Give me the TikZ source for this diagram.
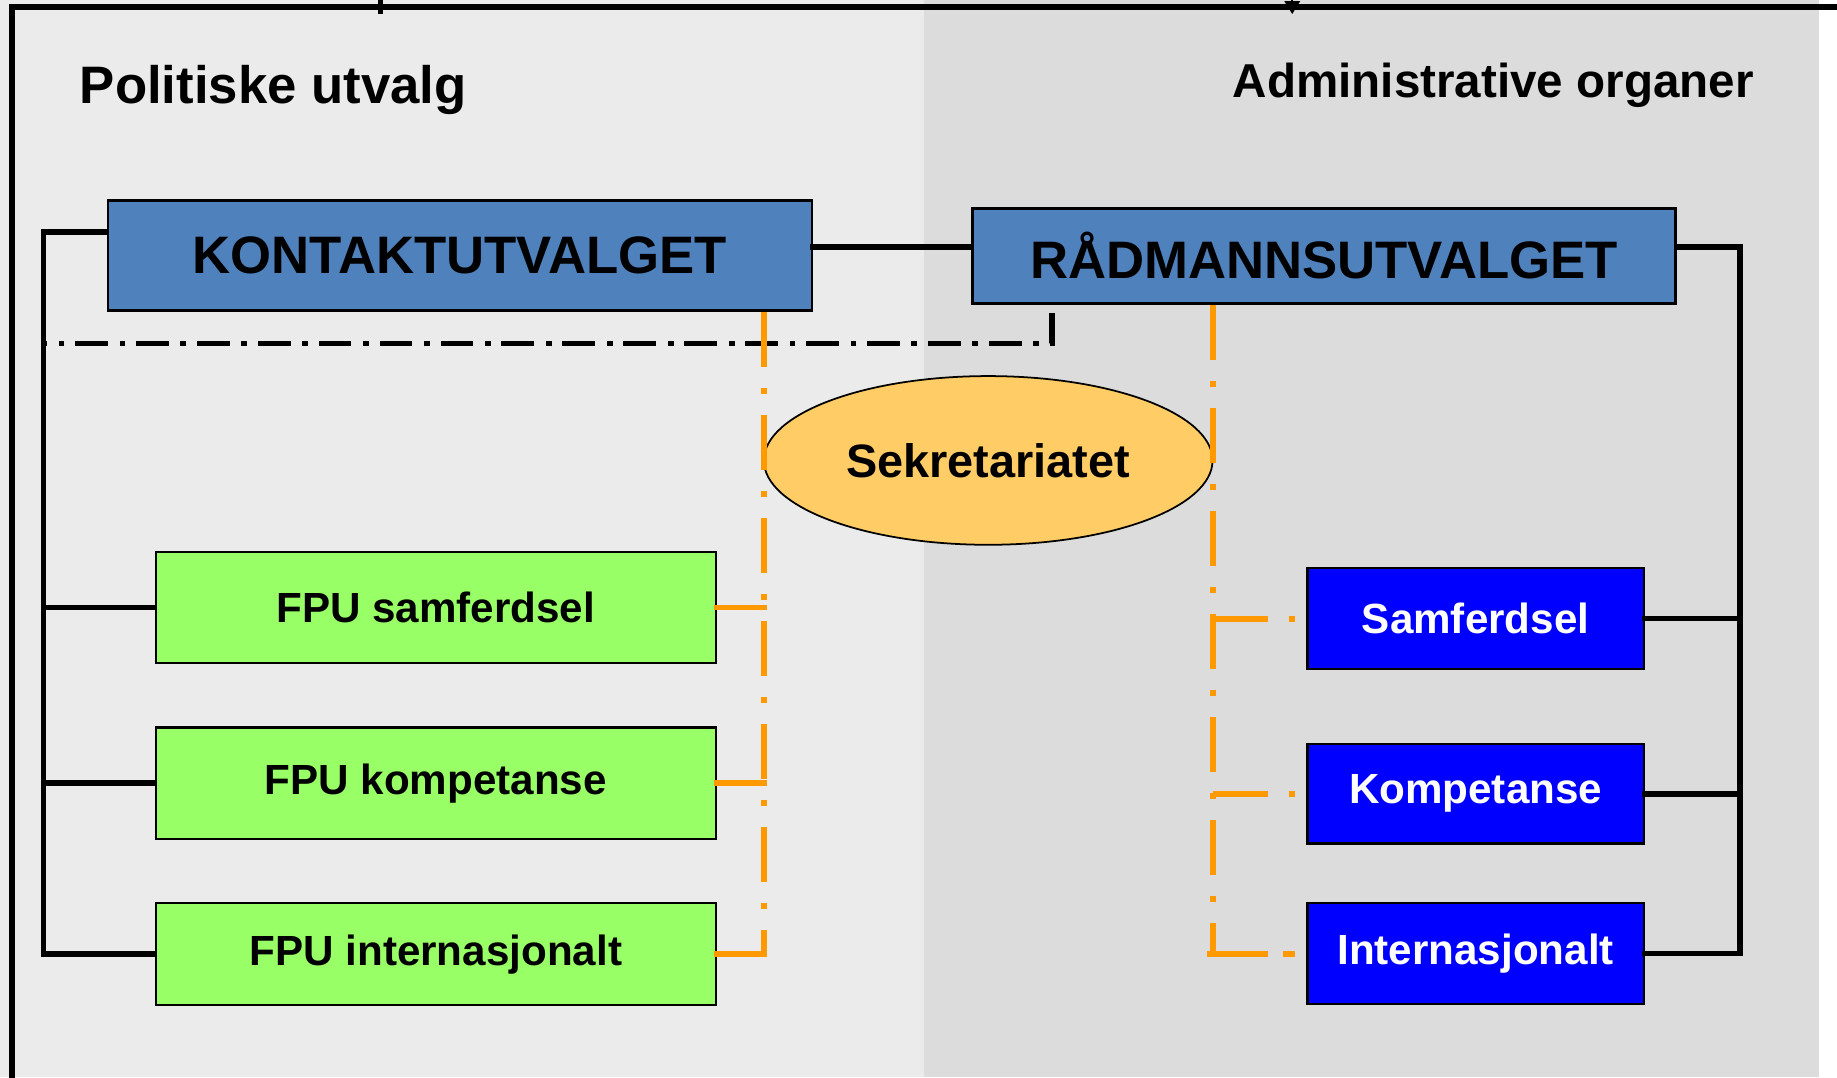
\documentclass[tikz,border=0pt]{standalone}
\usepackage{fontspec}
\setmainfont{Liberation Sans}
\usetikzlibrary{shapes.geometric,calc,arrows.meta}
\definecolor{lgray}{HTML}{EBEBEB}
\definecolor{dgray}{HTML}{DCDCDC}
\definecolor{kblue}{HTML}{4F81BD}
\definecolor{fgreen}{HTML}{99FF66}
\definecolor{sorange}{HTML}{FFCC66}
\definecolor{lorange}{HTML}{FF9900}
\definecolor{pblue}{HTML}{0000FF}
\begin{document}
\begin{tikzpicture}[x=1pt,y=-1pt,
  topbox/.style={draw=black,line width=2pt,fill=kblue,minimum width=601pt,minimum height=94pt,inner sep=0pt,font=\bfseries\fontsize{45}{54}\selectfont},
  gbox/.style={draw=black,line width=2pt,fill=fgreen,minimum width=478pt,minimum height=95pt,inner sep=0pt,font=\bfseries\fontsize{36}{43}\selectfont},
  bbox/.style={draw=black,line width=2pt,fill=pblue,text=white,minimum width=287pt,minimum height=86pt,inner sep=0pt,font=\bfseries\fontsize{36}{43}\selectfont},
  conn/.style={draw=black,line width=4.8pt,line cap=rect},
  blackdd/.style={draw=black,line width=4.5pt,dash pattern=on 28pt off 9pt on 5pt off 10pt},
  odd/.style={draw=lorange,line width=5pt,dash pattern=on 47pt off 18pt on 5pt off 18pt},
  title/.style={inner sep=0pt,font=\bfseries\fontsize{45}{54}\selectfont}]
% background
\fill[white] (0,0) rectangle (1568,919.3);
\fill[lgray] (0,0) rectangle (789,919.3);
\fill[dgray] (789,0) rectangle (1553,919.3);
\useasboundingbox (0,0) rectangle (1568,919.3);
% frame
\draw[line width=5pt,line join=miter] (10,925) -- (10,6) -- (1575,6);
\coordinate (tka) at (325,-2);
\coordinate (tkb) at (325,12);
\draw[line width=4.5pt] (tka) -- (tkb);
\coordinate (ara) at (1103,-4);
\coordinate (arb) at (1103,12);
\draw[line width=2pt,-{Triangle[width=13pt,length=11pt]}] (ara) -- (arb);
% titles
\node[title,anchor=base west] (pol) at (68,88) {Politiske utvalg};
\node[title,anchor=base east,font=\bfseries\fontsize{40.6}{48}\selectfont] (adm) at (1497,83) {Administrative organer};
% main boxes
\node[topbox] (kont) at (392.5,218) {KONTAKTUTVALGET};
\node[topbox,minimum width=600pt,minimum height=81pt] (raad) at (1130,218.5) {RÅDMANNSUTVALGET};
\node[ellipse,draw=black,line width=1.5pt,fill=sorange,minimum width=383pt,minimum height=144pt,inner sep=0pt,font=\bfseries\fontsize{40}{48}\selectfont] (sek) at (843.5,393) {Sekretariatet};
\node[gbox] (g1) at (372,518.5) {FPU samferdsel};
\node[gbox] (g2) at (372,668.5) {FPU kompetanse};
\node[gbox,minimum height=87pt] (g3) at (372,814.5) {FPU internasjonalt};
\node[bbox] (b1) at (1259.5,528) {Samferdsel};
\node[bbox,minimum height=85pt] (b2) at (1259.5,677.5) {Kompetanse};
\node[bbox] (b3) at (1259.5,814) {Internasjonalt};
% black connectors
\coordinate (lt) at (37,198);
\coordinate (mid) at (760,211);
\coordinate (rb) at (1485,211);
\draw[conn] (kont.west |- lt) -- (lt) -- (lt |- g3.west) -- (g3.west);
\draw[conn] (g1.west) -- (g1.west -| lt);
\draw[conn] (g2.west) -- (g2.west -| lt);
\draw[conn] (kont.east |- mid) -- (raad.west |- mid);
\draw[conn] (raad.east |- rb) -- (rb) -- (rb |- b3.east) -- (b3.east);
\draw[conn] (b1.east) -- (b1.east -| rb);
\draw[conn] (b2.east) -- (b2.east -| rb);
% dash-dot black
\coordinate (dd) at (898,293);
\draw[blackdd,line join=miter] ([yshift=-7pt]dd |- raad.south) -- (dd) -- (lt |- dd);
% orange dash-dot lines
\coordinate (ol) at (652,0);
\coordinate (orr) at (1035,0);
\draw[odd] (ol |- kont.south) -- (ol |- g3.east);
\draw[odd,line cap=rect] (g1.east -| ol) -- (g1.east);
\draw[odd,line cap=rect] (g2.east -| ol) -- (g2.east);
\draw[odd,line cap=rect] (g3.east -| ol) -- (g3.east);
\draw[odd] (orr |- raad.south) -- (orr |- b3.west);
\draw[odd] (b1.west -| orr) -- (b1.west);
\draw[odd] (b2.west -| orr) -- (b2.west);
\draw[odd,line cap=rect] ([xshift=-2pt]b3.west -| orr) -- (b3.west);
\end{tikzpicture}
\end{document}
